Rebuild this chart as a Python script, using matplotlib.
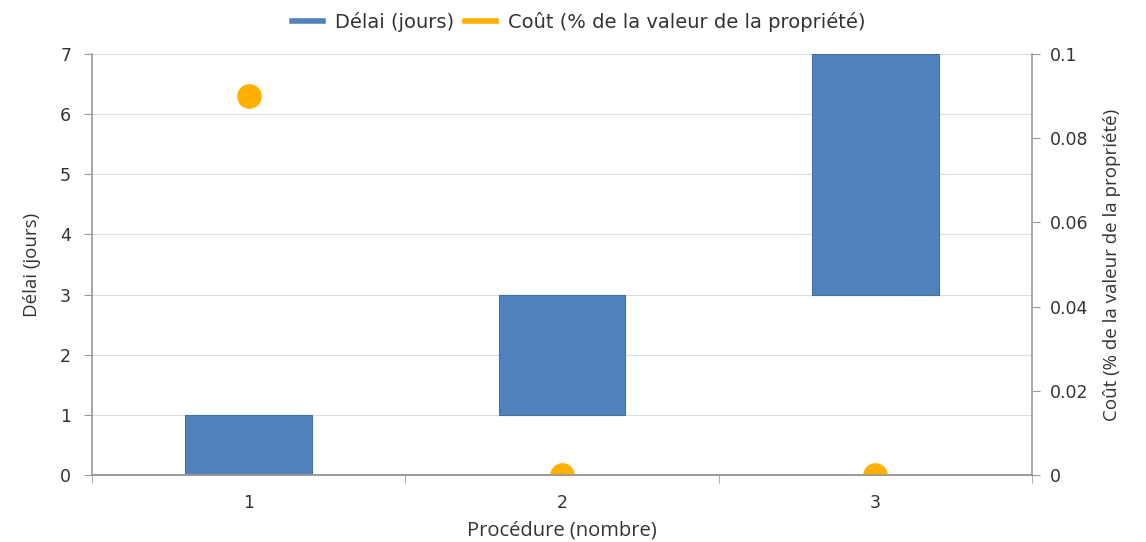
import matplotlib.pyplot as plt
from matplotlib.lines import Line2D
import numpy as np

# Données
procedures = [1, 2, 3]
debut = [0, 1, 3]        # base de chaque barre (jours)
fin = [1, 3, 7]          # sommet de chaque barre (jours)
cout = [0.09, 0, 0]      # % de la valeur de la propriété

bleu = '#4F81BD'
orange = '#FFB000'
gris = '#999999'
texte = '#333333'

plt.rcParams['font.family'] = ['DejaVu Sans']
titres = ['Open Sans', 'DejaVu Sans']

fig = plt.figure(figsize=(11.46, 5.42), dpi=100)
ax = fig.add_axes([92 / 1146, 1 - 475 / 542, 940 / 1146, 421 / 542])

x = np.array(procedures)
hauteur = np.array(fin) - np.array(debut)
ax.bar(x, hauteur, bottom=debut, width=0.405, color=bleu,
       edgecolor='#41719C', linewidth=0.8, zorder=2)

ax.set_xlim(0.5, 3.5)
ax.set_ylim(0, 7)
ax.set_yticks(range(0, 8))
ax.grid(axis='y', color='#DDDDDD', linewidth=0.8, zorder=0)
ax.set_xticks(procedures)
ax.set_xticks([0.5, 1.5, 2.5, 3.5], minor=True)
ax.tick_params(axis='x', which='major', length=0, pad=14, labelsize=12.5, colors=texte)
ax.tick_params(axis='x', which='minor', length=6, color=gris)
ax.tick_params(axis='y', length=6, color=gris, labelsize=12.5, labelcolor=texte, pad=9)

for s in ['top', 'right']:
    ax.spines[s].set_visible(False)
for s in ['left', 'bottom']:
    ax.spines[s].set_color(gris)
    ax.spines[s].set_linewidth(1.2)

ax.set_ylabel('Délai (jours)', family=titres, fontsize=13.5,
              color=texte, labelpad=14)
ax.set_xlabel('Procédure (nombre)', family=titres, fontsize=14.5,
              color=texte, labelpad=6)

ax2 = ax.twinx()
ax2.scatter(x, cout, s=280, color=orange, zorder=1, clip_on=True)
ax2.set_ylim(0, 0.1)
ax2.set_yticks([0, 0.02, 0.04, 0.06, 0.08, 0.1])
ax2.set_yticklabels(['0', '0.02', '0.04', '0.06', '0.08', '0.1'])
ax2.tick_params(axis='y', length=6, color=gris, labelsize=12.5, labelcolor=texte, pad=7)
for s in ['top', 'left']:
    ax2.spines[s].set_visible(False)
ax2.spines['bottom'].set_color(gris)
ax2.spines['bottom'].set_linewidth(1.2)
ax2.spines['right'].set_color(gris)
ax2.spines['right'].set_linewidth(1.2)
ax2.set_ylabel('Coût (% de la valeur de la propriété)', family=titres,
               fontsize=13.5, color=texte, labelpad=10)

poignees = [Line2D([0], [0], color=bleu, linewidth=4),
            Line2D([0], [0], color=orange, linewidth=4)]
fig.legend(poignees, ['Délai (jours)', 'Coût (% de la valeur de la propriété)'],
           loc='upper center', bbox_to_anchor=(0.505, 1.01), ncol=2, frameon=False,
           fontsize=14, handlelength=1.6, columnspacing=0.6, handletextpad=0.6,
           labelcolor=texte)

fig.savefig('out.png', dpi=100)
